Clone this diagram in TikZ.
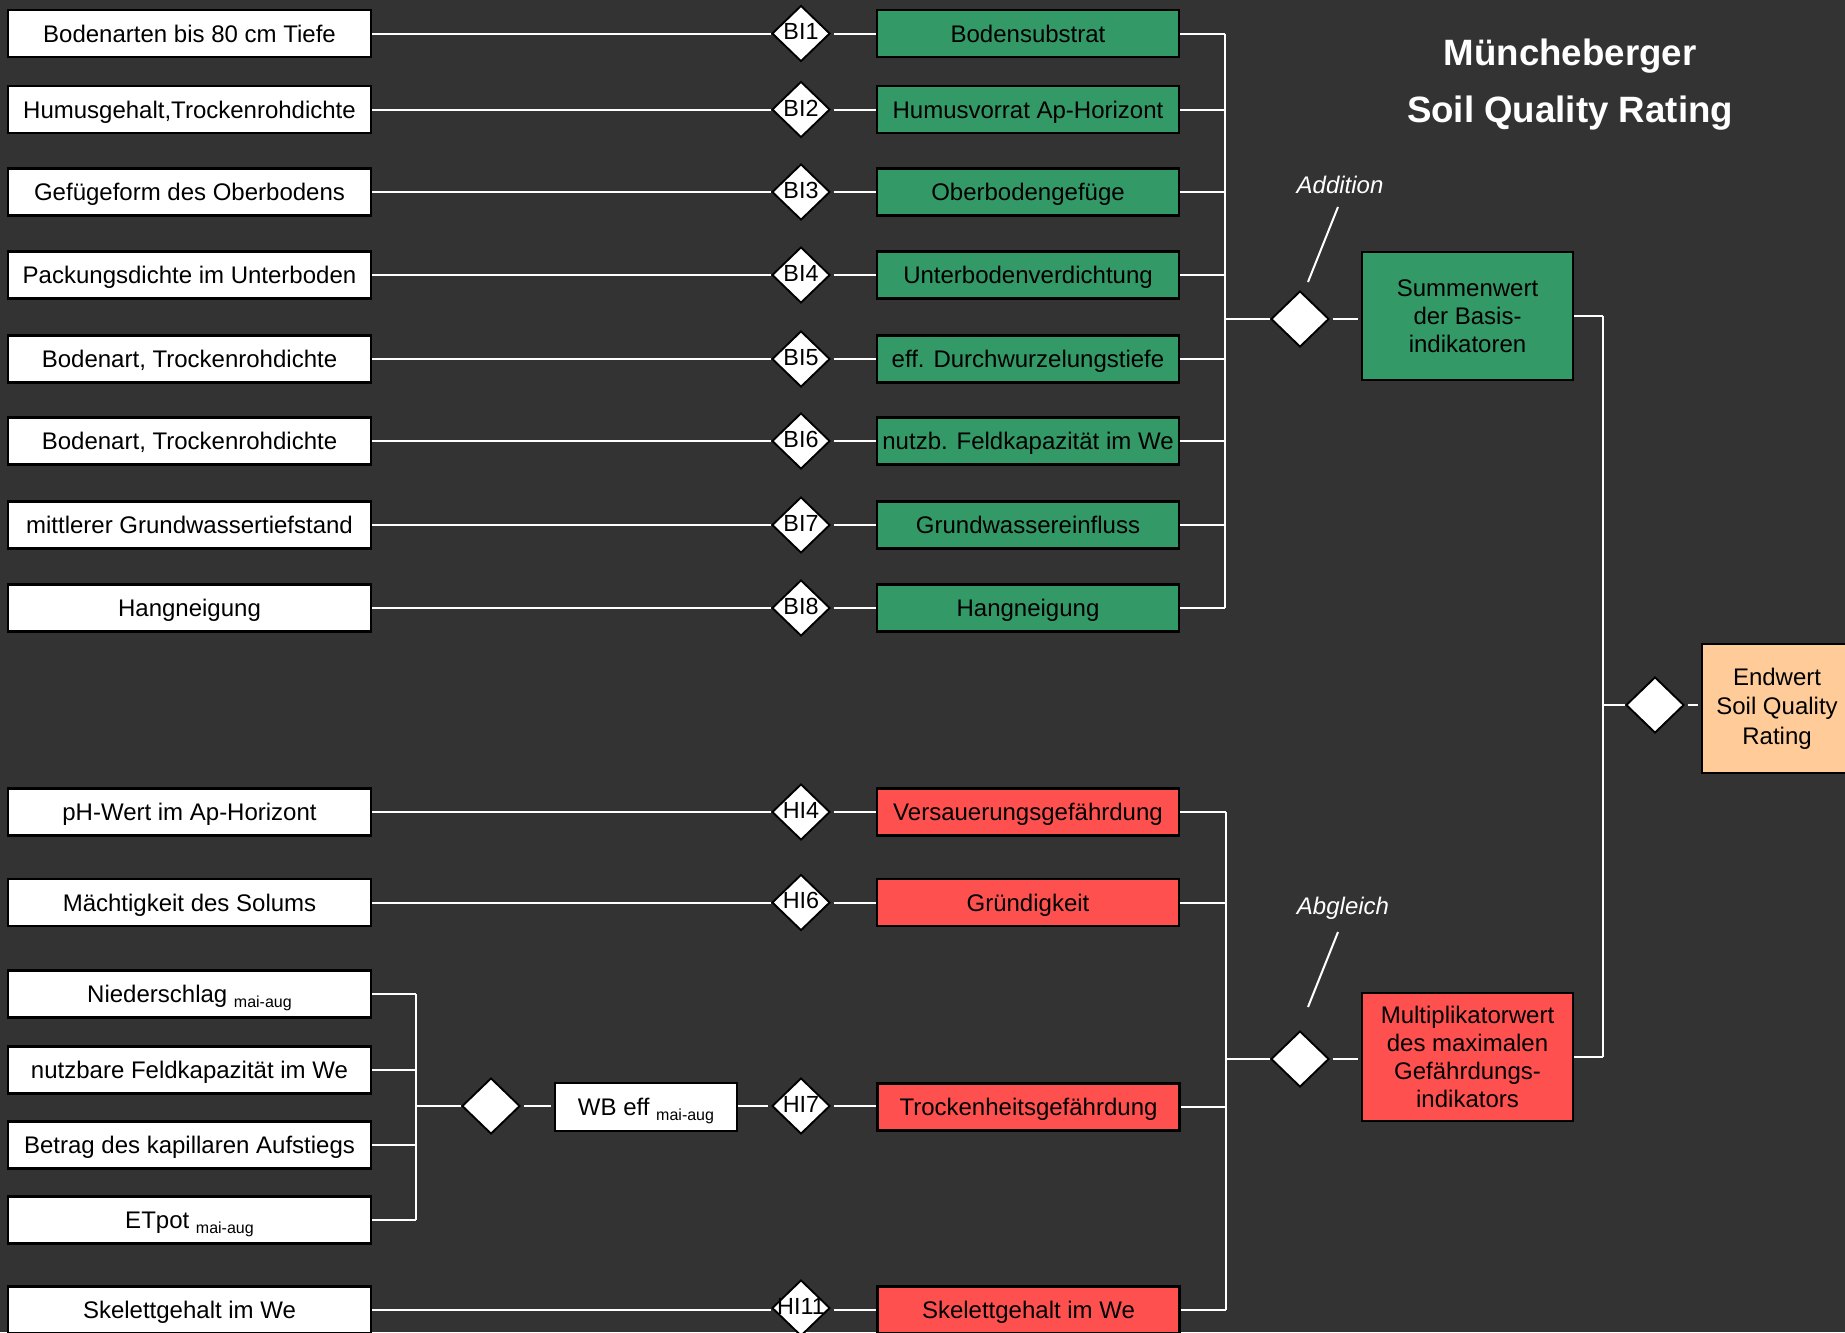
\documentclass[tikz,border=0pt]{standalone}
\usepackage{fontspec}
\setmainfont{Liberation Sans}
\usetikzlibrary{shapes.geometric}
\definecolor{bgc}{HTML}{333333}
\definecolor{sqgreen}{HTML}{339966}
\definecolor{sqred}{HTML}{FF5050}
\definecolor{sqpeach}{HTML}{FFCC99}
\newcommand{\bfs}{\fontsize{18pt}{20.8pt}\selectfont}
\newcommand{\dfs}{\fontsize{17.5pt}{19pt}\selectfont}
\newcommand{\subma}{\ \raisebox{-3.5pt}{\fontsize{12pt}{13pt}\selectfont mai-aug}}
\tikzset{
  bx/.style={draw=black, line width=1.6pt, inner sep=0pt, minimum height=35.25pt, font=\bfs, text=black, align=center},
  one/.style={text height=16.5pt, text depth=3.6pt},
  lbox/.style={bx, one, fill=white, minimum width=272.25pt},
  gbox/.style={bx, one, fill=sqgreen, minimum width=226.5pt},
  rbox/.style={bx, one, fill=sqred, minimum width=226.5pt},
  bigbox/.style={bx, minimum width=158.25pt, minimum height=96pt},
  dia/.style={diamond, draw=black, line width=1.4pt, fill=white, inner sep=0pt, minimum width=43.5pt, minimum height=42pt},
  dlab/.style={dia, label={[font=\dfs, text=black, inner sep=0pt, yshift=1.2pt]center:#1}},
  conn/.style={draw=white, line width=1.5pt},
  note/.style={font=\bfs\itshape, text=white}
}
\begin{document}
\begin{tikzpicture}[x=0.75pt, y=-0.75pt]
\fill[bgc] (0,0) rectangle (1845,1332);
\useasboundingbox (0,0) rectangle (1845,1332);

% title
\node[font=\fontsize{27.5pt}{33pt}\selectfont\bfseries, text=white] (t1) at (1570,56) {Müncheberger};
\node[font=\fontsize{27.5pt}{33pt}\selectfont\bfseries, text=white] (t2) at (1570,113) {Soil Quality Rating};

% upper rows
\foreach \i/\yy/\la/\lb in {
 1/33.5/{Bodenarten bis 80 cm Tiefe}/{Bodensubstrat},
 2/109.5/{Humusgehalt,Trockenrohdichte}/{Humusvorrat Ap-Horizont},
 3/192/{Gefügeform des Oberbodens}/{Oberbodengefüge},
 4/275/{Packungsdichte im Unterboden}/{Unterbodenverdichtung},
 5/359/{Bodenart, Trockenrohdichte}/{eff. Durchwurzelungstiefe},
 6/441/{Bodenart, Trockenrohdichte}/{nutzb. Feldkapazität im We},
 7/525/{mittlerer Grundwassertiefstand}/{Grundwassereinfluss},
 8/608/{Hangneigung}/{Hangneigung}}{
  \node[lbox] (u\i) at (189.5,\yy) {\la};
  \node[dlab=BI\i] (bd\i) at (801,\yy) {};
  \node[gbox] (g\i) at (1028,\yy) {\lb};
  \draw[conn] (u\i.east) -- (bd\i.west);
  \draw[conn, shorten <=2pt] (bd\i.east) -- (g\i.west);
}
\coordinate (busA) at (1225,0);
\foreach \i in {1,...,8}{ \draw[conn] (g\i.east) -- (g\i.east -| busA); }
\draw[conn] (g1.east -| busA) -- (g8.east -| busA);

\node[dia] (dA) at (1300,319) {};
\node[bigbox, fill=sqgreen] (S) at (1467.5,316) {Summenwert\\der Basis-\\indikatoren};
\draw[conn] (busA |- dA) -- (dA.west);
\draw[conn, shorten <=2pt, shorten >=2pt] (dA.east) -- (dA.east -| S.west);
\node[note] (addn) at (1340,185) {Addition};
\coordinate (a1) at (1338,207);
\coordinate (a2) at (1308,282);
\draw[conn] (a1) -- (a2);

% lower rows
\node[lbox] (p1) at (189.5,812) {pH-Wert im Ap-Horizont};
\node[dlab=HI4] (hd4) at (801,812) {};
\node[rbox] (r4) at (1028,812) {Versauerungsgefährdung};
\draw[conn] (p1.east) -- (hd4.west);
\draw[conn, shorten <=2pt] (hd4.east) -- (r4.west);

\node[lbox] (p2) at (189.5,902.5) {Mächtigkeit des Solums};
\node[dlab=HI6] (hd6) at (801,902.5) {};
\node[rbox] (r6) at (1028,902.5) {Gründigkeit};
\draw[conn] (p2.east) -- (hd6.west);
\draw[conn, shorten <=2pt] (hd6.east) -- (r6.west);

\node[lbox] (n1) at (189.5,994) {Niederschlag\subma};
\node[lbox] (n2) at (189.5,1070) {nutzbare Feldkapazität im We};
\node[lbox] (n3) at (189.5,1145) {Betrag des kapillaren Aufstiegs};
\node[lbox] (n4) at (189.5,1220) {ETpot\subma};
\coordinate (busN) at (416,0);
\foreach \i in {1,...,4}{ \draw[conn] (n\i.east) -- (n\i.east -| busN); }
\draw[conn] (n1.east -| busN) -- (n4.east -| busN);
\node[dia] (dW) at (491,1106) {};
\draw[conn] (busN |- dW) -- (dW.west);
\node[bx, one, fill=white, minimum width=136.5pt, minimum height=36pt] (wb) at (646,1107) {WB eff\subma};
\draw[conn, shorten <=2pt, shorten >=2pt] (dW.east) -- (dW.east -| wb.west);
\node[dlab=HI7] (hd7) at (801,1106) {};
\node[rbox] (r7) at (1028.5,1107) {Trockenheitsgefährdung};
\draw[conn, shorten >=2pt] (hd7.west -| wb.east) -- (hd7.west);
\draw[conn, shorten <=2pt] (hd7.east) -- (hd7.east -| r7.west);

\node[lbox] (p5) at (189.5,1310) {Skelettgehalt im We};
\node[dlab=HI11] (hd11) at (801,1308) {};
\node[rbox] (r11) at (1028.5,1310) {Skelettgehalt im We};
\draw[conn] (p5.east) -- (p5.east -| hd11.west);
\draw[conn, shorten <=2pt] (p5.east -| hd11.east) -- (r11.west);

\coordinate (busB) at (1226,0);
\foreach \n in {r4,r6,r7,r11}{ \draw[conn] (\n.east) -- (\n.east -| busB); }
\draw[conn] (r4.east -| busB) -- (r11.east -| busB);

\node[dia] (dM) at (1300,1059) {};
\node[bigbox, fill=sqred] (M) at (1467.5,1057) {Multiplikatorwert\\des maximalen\\Gefährdungs-\\indikators};
\draw[conn] (busB |- dM) -- (dM.west);
\draw[conn, shorten <=2pt, shorten >=2pt] (dM.east) -- (dM.east -| M.west);
\node[note] (abgl) at (1343,908) {Abgleich};
\coordinate (b1) at (1338,932);
\coordinate (b2) at (1308,1007);
\draw[conn] (b1) -- (b2);

% final
\coordinate (busC) at (1603,0);
\draw[conn] (S.east) -- (S.east -| busC);
\draw[conn] (M.east) -- (M.east -| busC);
\draw[conn] (S.east -| busC) -- (M.east -| busC);
\node[dia] (dE) at (1655,705) {};
\node[bx, fill=sqpeach, minimum width=112.5pt, minimum height=96.75pt, font=\fontsize{18pt}{22pt}\selectfont] (E) at (1777,708.5) {Endwert\\Soil Quality\\Rating};
\draw[conn] (busC |- dE) -- (dE.west);
\draw[conn, shorten <=2pt, shorten >=2pt] (dE.east) -- (dE.east -| E.west);
\end{tikzpicture}
\end{document}
